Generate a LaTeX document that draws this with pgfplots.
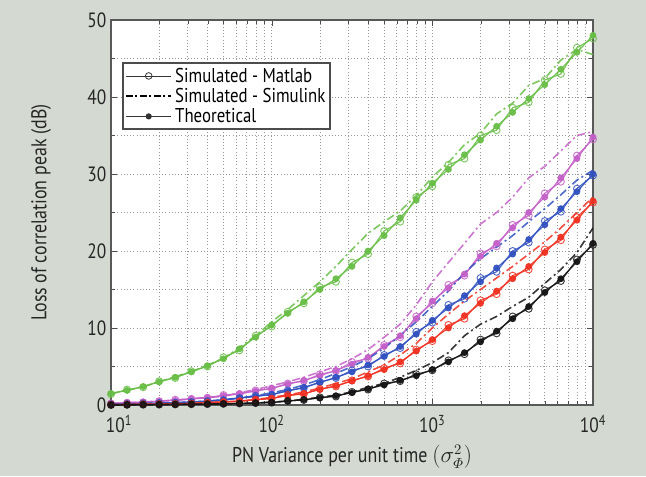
\documentclass[border=0pt]{standalone}
\usepackage{amsmath}
\usepackage{fontspec}
\setmainfont[FakeStretch=0.84]{PT Sans}
\usepackage{pgfplots}
\usepackage{pgfplotstable}
\pgfplotsset{compat=1.18}
\definecolor{bgcol}{RGB}{212,217,209}
\definecolor{cgreen}{RGB}{104,190,70}
\definecolor{cmag}{RGB}{196,96,200}
\definecolor{cblue}{RGB}{48,80,192}
\definecolor{cred}{RGB}{240,48,32}
\definecolor{cblack}{RGB}{20,20,20}

\pgfplotstableread{
x t m s
10 1.5 1.4 1.5
12.59 1.9 2.0 1.9
15.85 2.4 2.3 2.4
19.95 3.0 3.1 3.0
25.12 3.6 3.5 3.7
31.62 4.3 4.4 4.3
39.81 5.1 5.0 5.2
50.12 6.0 6.2 6.0
63.1 7.3 7.1 7.5
79.43 8.8 9.0 9.0
100 10.4 10.2 10.8
125.9 11.9 12.1 12.4
158.5 13.4 13.2 14.2
199.5 15.0 15.3 16.0
251.2 16.4 16.0 18.0
316.2 18.0 18.5 20.2
398.1 20.0 19.6 22.3
501.2 22.0 22.6 23.8
631 24.3 23.8 25.2
794.3 26.6 27.0 27.2
1000 28.8 28.4 29.6
1259 30.6 31.2 31.5
1585 32.5 32.0 33.8
1995 34.4 35.0 35.3
2512 36.2 35.7 37.8
3162 38.0 38.6 39.2
3981 39.8 39.3 41.5
5012 41.6 42.2 42.4
6310 43.6 43.0 44.8
7943 45.8 46.4 46.2
10000 48.0 47.6 45.5
}\tgreen

\pgfplotstableread{
x t m s
10 0.2 0.2 0.2
12.59 0.3 0.3 0.3
15.85 0.4 0.35 0.4
19.95 0.5 0.5 0.5
25.12 0.6 0.7 0.6
31.62 0.8 0.8 0.8
39.81 1.0 0.9 1.0
50.12 1.2 1.3 1.1
63.1 1.5 1.4 1.6
79.43 1.8 1.9 2.0
100 2.2 2.1 2.5
125.9 2.7 2.8 3.0
158.5 3.2 3.1 3.6
199.5 3.8 4.0 4.3
251.2 4.5 4.4 5.0
316.2 5.3 5.6 6.0
398.1 6.2 6.0 7.2
501.2 7.6 7.8 8.8
631 9.0 8.8 10.5
794.3 11.2 11.5 13.0
1000 13.5 13.2 16.0
1259 15.2 15.6 18.5
1585 17.0 16.8 21.0
1995 19.3 19.7 23.5
2512 21.0 20.6 25.0
3162 23.0 23.4 27.0
3981 25.0 24.6 29.5
5012 27.0 27.5 31.0
6310 29.5 29.0 33.0
7943 32.0 32.4 35.0
10000 34.8 34.5 35.5
}\tmag

\pgfplotstableread{
x t m s
10 0.1 0.1 0.1
12.59 0.15 0.15 0.15
15.85 0.2 0.2 0.2
19.95 0.25 0.25 0.25
25.12 0.3 0.3 0.3
31.62 0.4 0.4 0.4
39.81 0.5 0.5 0.5
50.12 0.7 0.6 0.7
63.1 0.9 0.9 0.9
79.43 1.1 1.2 1.2
100 1.4 1.3 1.6
125.9 1.8 1.9 2.0
158.5 2.3 2.2 2.6
199.5 2.9 3.0 3.3
251.2 3.6 3.5 4.1
316.2 4.3 4.5 5.0
398.1 5.2 5.0 6.0
501.2 6.3 6.5 7.4
631 7.6 7.4 9.0
794.3 9.2 9.5 10.8
1000 11.0 10.7 12.8
1259 12.6 13.0 14.8
1585 14.2 13.8 17.2
1995 16.0 16.5 19.0
2512 17.8 17.3 20.5
3162 19.6 20.0 22.0
3981 21.5 21.1 23.8
5012 23.4 23.9 25.5
6310 25.5 25.1 27.3
7943 27.7 28.1 29.2
10000 30.0 29.8 30.5
}\tblue

\pgfplotstableread{
x t m s
10 0.05 0.05 0.05
12.59 0.07 0.07 0.07
15.85 0.1 0.1 0.1
19.95 0.12 0.12 0.12
25.12 0.15 0.15 0.15
31.62 0.2 0.2 0.2
39.81 0.3 0.3 0.3
50.12 0.4 0.4 0.4
63.1 0.5 0.5 0.5
79.43 0.7 0.7 0.7
100 0.9 0.8 1.0
125.9 1.2 1.3 1.3
158.5 1.5 1.4 1.7
199.5 2.0 2.1 2.2
251.2 2.5 2.4 2.8
316.2 3.1 3.2 3.4
398.1 3.8 3.7 4.3
501.2 4.6 4.8 5.2
631 5.6 5.4 6.5
794.3 7.0 7.2 8.0
1000 8.5 8.3 10.0
1259 10.0 10.4 11.8
1585 11.6 11.2 13.5
1995 13.2 13.6 15.0
2512 14.8 14.4 16.5
3162 16.4 16.8 18.0
3981 18.0 17.6 19.6
5012 19.8 20.2 21.2
6310 21.8 21.4 23.0
7943 24.0 24.4 25.0
10000 26.5 26.3 27.0
}\tred

\pgfplotstableread{
x t m s
10 0.0 0.0 0.0
12.59 0.02 0.02 0.02
15.85 0.04 0.04 0.04
19.95 0.05 0.05 0.05
25.12 0.07 0.07 0.07
31.62 0.1 0.1 0.1
39.81 0.12 0.12 0.12
50.12 0.15 0.15 0.15
63.1 0.2 0.2 0.2
79.43 0.25 0.25 0.25
100 0.35 0.3 0.4
125.9 0.5 0.55 0.5
158.5 0.7 0.65 0.75
199.5 0.9 1.0 1.0
251.2 1.2 1.1 1.3
316.2 1.6 1.7 1.7
398.1 2.1 2.0 2.3
501.2 2.6 2.8 2.8
631 3.2 3.1 3.6
794.3 3.8 4.0 4.5
1000 4.6 4.5 5.5
1259 5.6 5.8 6.8
1585 6.8 6.6 9.0
1995 8.2 8.5 10.5
2512 9.6 9.3 11.5
3162 11.2 11.5 12.8
3981 12.8 12.5 14.0
5012 14.6 14.9 15.8
6310 16.4 16.1 17.6
7943 18.6 18.9 19.8
10000 21.0 20.8 23.0
}\tblack

\pgfplotsset{
  simstyle/.style={forget plot, #1, dash pattern=on 6pt off 2.5pt on 1.5pt off 2.5pt, line width=1.2pt, opacity=0.85},
  matstyle/.style={forget plot, #1, mark=o, mark size=2.6pt, mark options={solid, line width=0.7pt}, opacity=0.85},
  thstyle/.style={forget plot, #1, mark=*, mark size=2.1pt, opacity=0.9},
}

\begin{document}
\begin{tikzpicture}
\fill[bgcol] (0,0) rectangle (484.5pt,357pt);
\useasboundingbox (0,0) rectangle (484.5pt,357pt);
\begin{axis}[
  at={(83.25pt,53.25pt)}, anchor=south west,
  scale only axis, width=361.5pt, height=288.75pt,
  xmode=log, xmin=10, xmax=10000, ymin=0, ymax=50,
  axis background/.style={fill=white},
  axis line style={gray!70!black, line width=0.8pt},
  xtick={10,100,1000,10000},
  xticklabels={\hspace{12pt}10\textsuperscript{1},10\textsuperscript{2},10\textsuperscript{3},10\textsuperscript{4}},
  ytick={0,10,...,50},
  minor ytick={5,15,...,45},
  grid=both,
  major grid style={gray!80, dotted, line width=0.6pt},
  minor grid style={gray!80, dotted, line width=0.6pt},
  tick style={gray!60!black},
  tick align=inside,
  /pgf/number format/assume math mode=true,
  tick label style={font=\fontsize{15.5}{17}\selectfont, text=black!85},
  xticklabel style={yshift=-4pt},
  label style={font=\fontsize{16}{18}\selectfont, text=black!85},
  xlabel={PN Variance per unit time $\left(\sigma^{2}_{\varPhi}\right)$},
  ylabel={Loss of correlation peak (dB)},
  xlabel style={at={(axis description cs:0.5,-0.135)}, anchor=center},
  ylabel style={at={(axis description cs:-0.145,0.5)}, anchor=center},
  legend style={at={(axis description cs:0.023,0.89)}, anchor=north west,
    font=\fontsize{15}{16}\selectfont, draw=gray!60!black, line width=1.2pt,
    inner sep=1.5pt, row sep=-1pt, fill=white},
  legend cell align=left,
  legend image code/.code={\draw[mark repeat=2,mark phase=2] plot coordinates {(0cm,0cm)(0.6cm,0cm)(1.2cm,0cm)};},
  every axis plot/.append style={line width=0.9pt},
]
\addlegendimage{gray!40!black, line width=0.6pt, mark=o, mark size=2.5pt, mark options={solid}}
\addlegendentry{Simulated - Matlab}
\addlegendimage{black, line width=1.6pt, dash pattern=on 5pt off 2pt on 1.5pt off 2pt}
\addlegendentry{Simulated - Simulink}
\addlegendimage{gray!40!black, line width=0.6pt, mark=*, mark size=2pt}
\addlegendentry{Theoretical}

\addplot[simstyle=cgreen] table[x=x,y=s] {\tgreen};
\addplot[matstyle=cgreen] table[x=x,y=m] {\tgreen};
\addplot[thstyle=cgreen] table[x=x,y=t] {\tgreen};
\addplot[simstyle=cmag] table[x=x,y=s] {\tmag};
\addplot[matstyle=cmag] table[x=x,y=m] {\tmag};
\addplot[thstyle=cmag] table[x=x,y=t] {\tmag};
\addplot[simstyle=cblue] table[x=x,y=s] {\tblue};
\addplot[matstyle=cblue] table[x=x,y=m] {\tblue};
\addplot[thstyle=cblue] table[x=x,y=t] {\tblue};
\addplot[simstyle=cred] table[x=x,y=s] {\tred};
\addplot[matstyle=cred] table[x=x,y=m] {\tred};
\addplot[thstyle=cred] table[x=x,y=t] {\tred};
\addplot[simstyle=cblack] table[x=x,y=s] {\tblack};
\addplot[matstyle=cblack] table[x=x,y=m] {\tblack};
\addplot[thstyle=cblack] table[x=x,y=t] {\tblack};
\end{axis}
\end{tikzpicture}
\end{document}
